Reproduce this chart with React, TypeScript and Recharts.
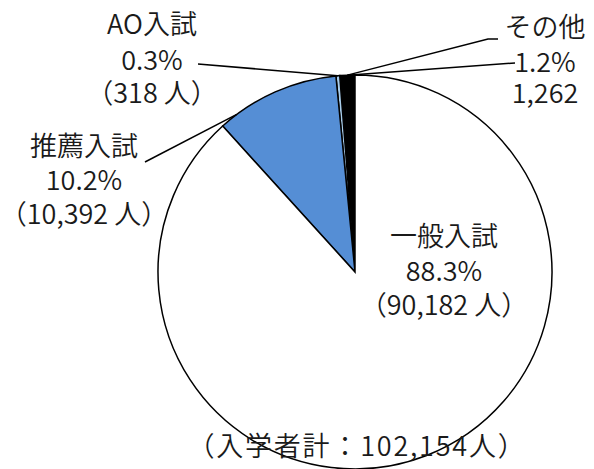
import React from 'react';
import { PieChart, Pie, Cell } from 'recharts';

const categories = ['その他', 'AO入試', '推薦入試', '一般入試'];
const counts = [1262, 318, 10392, 90182];
const colors = ['#000000', '#A9CDEB', '#558ED5', '#FFFFFF'];
const totalLabel = '入学者計';

const data = categories.map((name, i) => ({ name, value: counts[i] }));
const total = counts.reduce((a, b) => a + b, 0);

// label layout (positions only)
const layout = [
  { x: 545, ys: [37, 72, 103], anchorT: 0.5, leaders: [[[498, 39], [488, 39]], [[515, 63]]] },
  { x: 152, ys: [34, 70, 103], anchorT: 0.5, leaders: [[[198, 64]]] },
  { x: 84, ys: [156, 190, 224], anchorT: 0.855, leaders: [[[145, 162]]] },
  { x: 444, ys: [246, 281, 315], anchorT: 0.5, leaders: [] },
];

const CX = 355;
const CY = 272;
const R = 197;
const START = 90;
const FONT = '"Noto Sans CJK JP", "Noto Sans", sans-serif';
const FS = 27;
const FW = 350;

const fmt = (n: number) => n.toLocaleString('en-US');

const renderLabel = (props: any) => {
  const { index, cx, cy, outerRadius } = props;
  const L = layout[index];
  const before = counts.slice(0, index).reduce((a, b) => a + b, 0);
  const ang = START + (360 * (before + L.anchorT * counts[index])) / total;
  const rad = (ang * Math.PI) / 180;
  const ax = cx + outerRadius * Math.cos(rad);
  const ay = cy - outerRadius * Math.sin(rad);
  const pct = ((counts[index] / total) * 100).toFixed(1) + '%';
  const lines =
    index === 0
      ? [categories[index], pct, fmt(counts[index])]
      : [categories[index], pct, `（${fmt(counts[index])} 人）`];
  return (
    <g key={`lbl-${index}`}>
      {L.leaders.map((pts, j) => {
        const all = [...pts, [ax, ay]];
        return (
          <polyline
            key={j}
            points={all.map((p) => p.join(',')).join(' ')}
            fill="none"
            stroke="#000"
            strokeWidth={1.5}
          />
        );
      })}
      {lines.map((t, j) => (
        <text
          key={j}
          x={L.x}
          y={L.ys[j]}
          textAnchor="middle"
          fontFamily={FONT}
          fontSize={FS}
          fontWeight={FW}
          fill="#1a1a1a"
        >
          {t}
        </text>
      ))}
      {index === 0 && (
        <text
          x={357}
          y={456}
          textAnchor="middle"
          fontFamily={FONT}
          fontSize={FS}
          fontWeight={FW}
          letterSpacing={1.8}
          fill="#1a1a1a"
        >
          {`（${totalLabel}：${fmt(total)}人）`}
        </text>
      )}
    </g>
  );
};

export default function App() {
  return (
    <div style={{ position: 'absolute', left: 0, top: 0, width: 594, height: 469, background: '#fff' }}>
      <PieChart width={594} height={469} margin={{ top: 0, right: 0, bottom: 0, left: 0 }}>
        <Pie
          data={data}
          dataKey="value"
          nameKey="name"
          cx={CX}
          cy={CY}
          outerRadius={R}
          startAngle={START}
          endAngle={START + 360}
          stroke="#000"
          strokeWidth={1.5}
          label={renderLabel}
          labelLine={false}
          isAnimationActive={false}
        >
          {data.map((d, i) => (
            <Cell key={d.name} fill={colors[i]} />
          ))}
        </Pie>
      </PieChart>
    </div>
  );
}
